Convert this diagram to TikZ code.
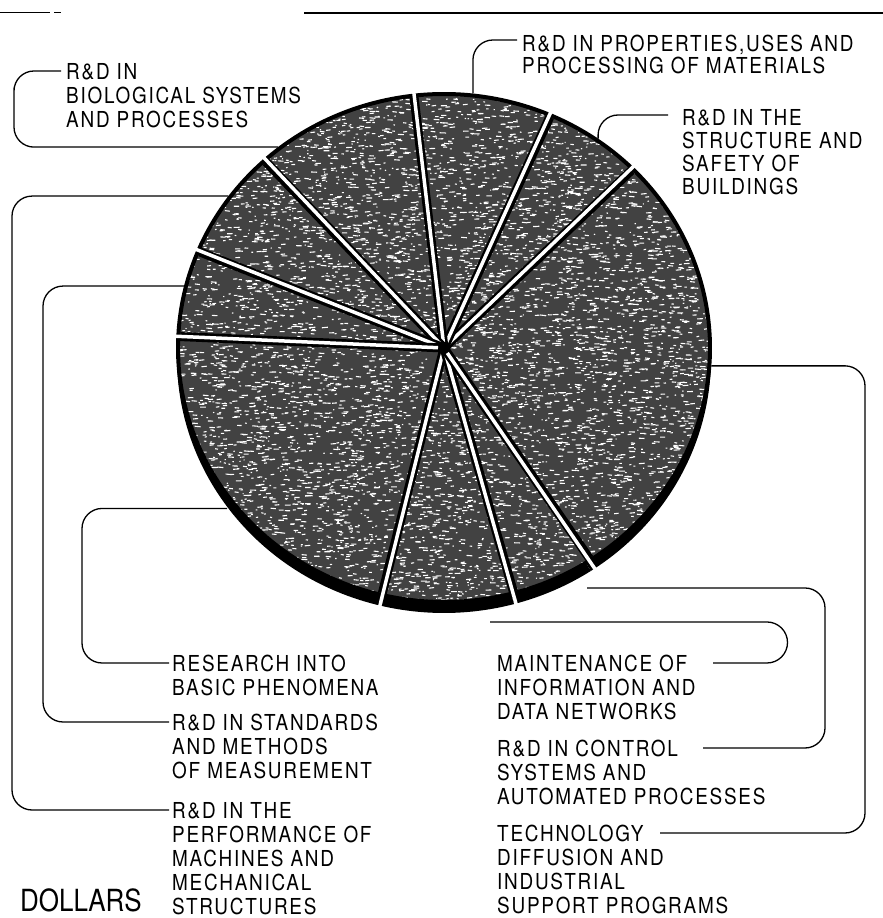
\documentclass[tikz,border=0pt]{standalone}
\usepackage{fontspec}
\setmainfont{TeX Gyre Heros}[FakeStretch=0.86]
\usetikzlibrary{calc}

\tikzset{
  rim/.style={fill=black},
  slicefill/.style={fill=black!74},
  sliceedge/.style={draw=black, line width=4pt, line join=round},
  streak/.style={draw=white, line width=1.1pt},
  gapedge/.style={draw=black, line width=9pt},
  gap/.style={draw=white, line width=3.5pt},
  leader/.style={draw=black, line width=1.3pt, rounded corners=20pt},
  lbl/.style={inner sep=0pt, anchor=north west, align=left,
    font=\fontsize{22}{24}\selectfont\addfontfeature{LetterSpace=8}},
}

\begin{document}
\begin{tikzpicture}[x=1pt,y=1pt]
  \useasboundingbox (0,0) rectangle (883,918);
  % page rule
  \draw[line width=1pt] (0,905) -- (50,905);
  \draw[line width=1pt] (54,905) -- (61,905);
  \draw[line width=1.8pt] (304,905) -- (883,905);

  % pie
  \coordinate (ctr) at (444,570);
  \coordinate (ctrlow) at (444,560);
  \foreach \a/\b in {44.8/66.4, 66.4/96.5, 96.5/132.4, 132.4/157.6, 157.6/177.4,
                     177.4/256.5, 256.5/285.2, 285.2/303.4, 303.4/404.8}
    \fill[rim] (ctrlow) -- ++(\a:267pt and 255pt)
      arc[start angle=\a, end angle=\b, x radius=267pt, y radius=255pt] -- cycle;
  \foreach \a/\b in {44.8/66.4, 66.4/96.5, 96.5/132.4, 132.4/157.6, 157.6/177.4,
                     177.4/256.5, 256.5/285.2, 285.2/303.4, 303.4/404.8}
    \path[slicefill] (ctr) -- ++(\a:266pt and 254pt)
      arc[start angle=\a, end angle=\b, x radius=266pt, y radius=254pt] -- cycle;
  % speckled print
  \begin{scope}
    \clip (ctr) ellipse [x radius=266pt, y radius=254pt];
    \pgfmathsetseed{7}
    \foreach \i in {1,...,8500}
      \draw[streak] ($(ctr)+(rnd*540-270,rnd*520-260)$) -- ++(1+rnd*5,rnd*1.2-0.6);
  \end{scope}
  \foreach \a/\b in {44.8/66.4, 66.4/96.5, 96.5/132.4, 132.4/157.6, 157.6/177.4,
                     177.4/256.5, 256.5/285.2, 285.2/303.4, 303.4/404.8}
    \path[sliceedge] (ctr) -- ++(\a:266pt and 254pt)
      arc[start angle=\a, end angle=\b, x radius=266pt, y radius=254pt] -- cycle;
  \foreach \a in {44.8, 66.4, 96.5, 132.4, 157.6, 177.4, 256.5, 285.2, 303.4}{
    \draw[gapedge] (ctr) -- ($(ctr)+(\a:264pt and 252pt)$);
    \draw[gap] ($(ctr)+(\a:6pt)$) -- ($(ctr)+(\a:284pt and 274pt)$);
  }

  % where the leaders touch the pie
  \path (ctr) ++(128.3:268pt and 256pt) coordinate (pBio);
  \path (ctr) ++(143.6:268pt and 256pt) coordinate (pMach);
  \path (ctr) ++(166:268pt and 256pt) coordinate (pStd);
  \path (ctrlow) ++(216:268pt and 256pt) coordinate (pBasic);
  \path (ctr) ++(83.8:268pt and 256pt) coordinate (pMat);
  \path (ctr) ++(54.9:268pt and 256pt) coordinate (pBuild);
  \path (ctr) ++(-4:268pt and 256pt) coordinate (pTech);
  \coordinate (pCtl) at (587,330);
  \coordinate (pNet) at (490,296);

  % labels
  \node[lbl] (tBio) at (66,855) {R\&D IN\\BIOLOGICAL SYSTEMS\\AND PROCESSES};
  \node[lbl, font=\fontsize{22}{22}\selectfont\addfontfeature{LetterSpace=8}]
    (tMat) at (522,883) {R\&D IN PROPERTIES,USES AND\\PROCESSING OF MATERIALS};
  \node[lbl, font=\fontsize{22}{23}\selectfont\addfontfeature{LetterSpace=8}]
    (tBuild) at (682,809) {R\&D IN THE\\STRUCTURE AND\\SAFETY OF\\BUILDINGS};
  \node[lbl] (tBasic) at (172,263) {RESEARCH INTO\\BASIC PHENOMENA};
  \node[lbl] (tStd) at (172,204) {R\&D IN STANDARDS\\AND METHODS\\OF MEASUREMENT};
  \node[lbl] (tMach) at (172,116) {R\&D IN THE\\PERFORMANCE OF\\MACHINES AND\\MECHANICAL\\STRUCTURES};
  \node[lbl] (tNet) at (497,263) {MAINTENANCE OF\\INFORMATION AND\\DATA NETWORKS};
  \node[lbl] (tCtl) at (497,178) {R\&D IN CONTROL\\SYSTEMS AND\\AUTOMATED PROCESSES};
  \node[lbl] (tTech) at (497,93) {TECHNOLOGY\\DIFFUSION AND\\INDUSTRIAL\\SUPPORT PROGRAMS};
  \node[anchor=base west, inner sep=0pt] (dollars) at (20,6)
    {\scalebox{0.99}[1]{\fontsize{30.5}{32}\selectfont DOLLARS}};

  % free ends of the leaders
  \coordinate (lBio) at ([xshift=-5pt,yshift=-8pt]tBio.north west);
  \coordinate (lMat) at ([xshift=-5pt,yshift=-5pt]tMat.north west);
  \coordinate (lBuild) at ([xshift=-14pt,yshift=-6pt]tBuild.north west);
  \coordinate (lBasic) at ([xshift=-3pt,yshift=-8pt]tBasic.north west);
  \coordinate (lStd) at ([xshift=-3pt,yshift=-8pt]tStd.north west);
  \coordinate (lMach) at ([xshift=-3pt,yshift=-8pt]tMach.north west);
  \coordinate (lNet) at (713,255);
  \coordinate (lCtl) at (703,170);
  \coordinate (lTech) at (660,85);

  % leaders
  \draw[leader] (lBio) -| (14,810) |- (pBio);
  \draw[leader] (pMach) -| (12,400) |- (lMach);
  \draw[leader] (pStd) -| (43,300) |- (lStd);
  \draw[leader] (pBasic) -| (82,330) |- (lBasic);
  \draw[leader] (lMat) -| (pMat);
  \draw[leader] (lBuild) -| (pBuild);
  \draw[leader] (pTech) -| (865,400) |- (lTech);
  \draw[leader] (pCtl) -| (825,220) |- (lCtl);
  \draw[leader, rounded corners=0pt] (pNet) -- (767,296)
    arc[start angle=90, end angle=-90, radius=20.5pt] -- (lNet);
\end{tikzpicture}
\end{document}
